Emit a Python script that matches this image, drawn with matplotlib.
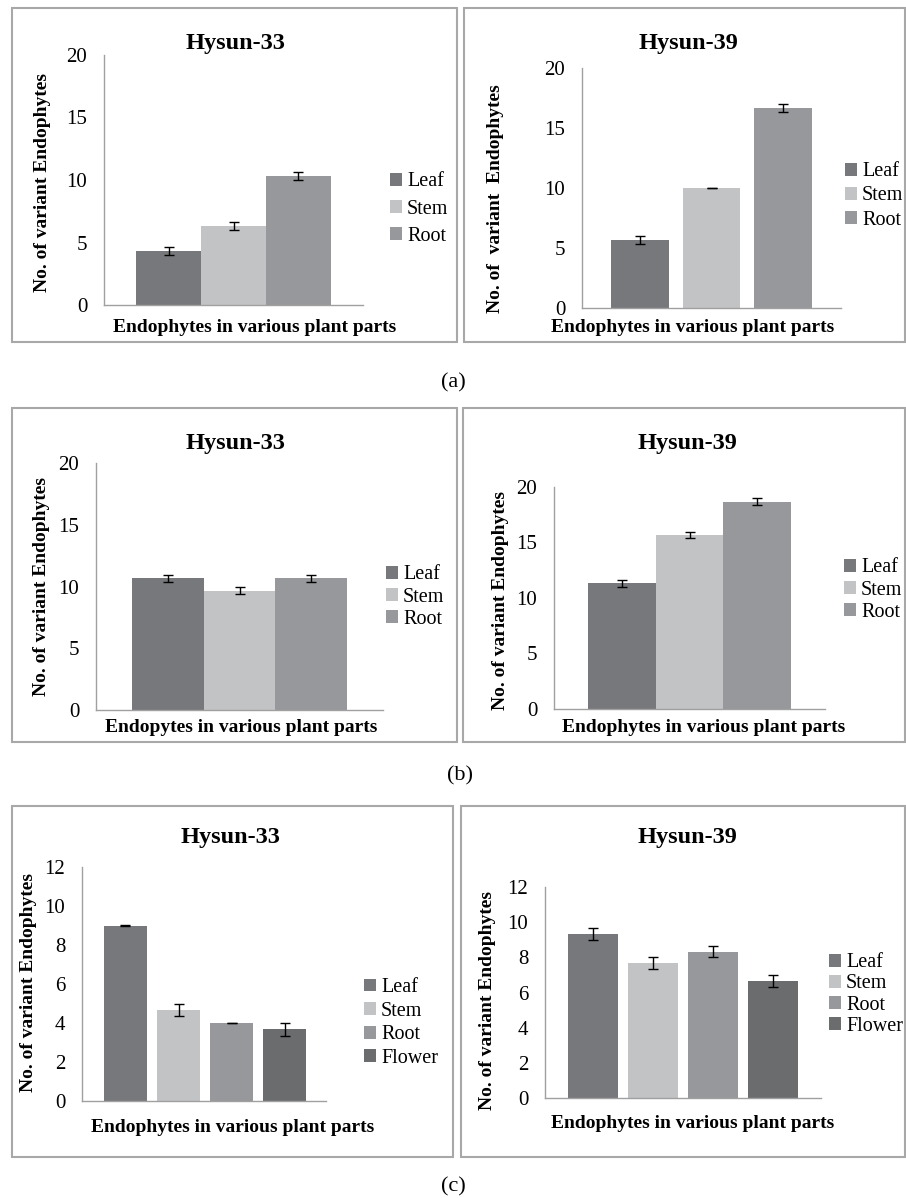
import matplotlib
matplotlib.use("Agg")
import matplotlib.pyplot as plt
from matplotlib.patches import Rectangle

# data (mean number of endophytes, error bar half-length)
parts3 = ["Leaf", "Stem", "Root"]
parts4 = ["Leaf", "Stem", "Root", "Flower"]

a33 = [4.33, 6.33, 10.33]
a33_err = [0.3, 0.3, 0.3]
a39 = [5.67, 10.0, 16.67]
a39_err = [0.3, 0.03, 0.3]

b33 = [10.67, 9.67, 10.67]
b33_err = [0.3, 0.3, 0.3]
b39 = [11.33, 15.67, 18.67]
b39_err = [0.3, 0.3, 0.3]

c33 = [9.0, 4.67, 4.0, 3.67]
c33_err = [0.03, 0.33, 0.02, 0.33]
c39 = [9.33, 7.67, 8.33, 6.67]
c39_err = [0.33, 0.33, 0.33, 0.33]

W, H = 906, 1198
colors = {"Leaf": "#77787b", "Stem": "#c2c3c5", "Root": "#97989b", "Flower": "#6b6c6e"}

plt.rcParams["font.family"] = ["Liberation Serif", "DejaVu Serif"]

fig = plt.figure(figsize=(W / 100, H / 100), dpi=100)


def fx(x):
    return x / W


def fy(y):
    return 1 - y / H


def box(x0, y0, x1, y1):
    fig.patches.append(Rectangle((fx(x0), fy(y1)), fx(x1 - x0), (y1 - y0) / H,
                                 transform=fig.transFigure, fill=False,
                                 edgecolor="#a8a8a8", linewidth=1.5))


def panel(ax_px, vals, errs, parts, ymax, ystep, width, xlim, title, title_xy,
          ylabel, ylab_xy, xlabel, xlab_xy, leg_xy, leg_sp=0.2):
    x0, ytop, x1, ybot = ax_px
    ax = fig.add_axes([fx(x0), fy(ybot), fx(x1 - x0), (ybot - ytop) / H])
    for i, (p, v, e) in enumerate(zip(parts, vals, errs)):
        ax.bar(i, v, width=width, color=colors[p], label=p, zorder=2)
        ax.errorbar(i, v, yerr=e, color="black", capsize=3.5, elinewidth=1,
                    capthick=1, zorder=3)
    ax.set_ylim(0, ymax)
    ax.set_xlim(*xlim)
    ax.set_yticks(range(0, ymax + 1, ystep))
    ax.set_xticks([])
    ax.tick_params(axis="y", length=0, pad=12, labelsize=15)
    for s in ["top", "right"]:
        ax.spines[s].set_visible(False)
    for s in ["left", "bottom"]:
        ax.spines[s].set_color("#a0a0a0")
        ax.spines[s].set_linewidth(1)
    fig.text(fx(title_xy[0]), fy(title_xy[1]), title, ha="center", va="center",
             fontsize=17.5, fontweight="bold")
    fig.text(fx(ylab_xy[0]), fy(ylab_xy[1]), ylabel, ha="center", va="center",
             rotation=90, fontsize=14, fontweight="bold")
    fig.text(fx(xlab_xy[0]), fy(xlab_xy[1]), xlabel, ha="center", va="center",
             fontsize=14, fontweight="bold")
    ax.legend(loc="center left", bbox_to_anchor=(fx(leg_xy[0]), fy(leg_xy[1])),
              bbox_transform=fig.transFigure, frameon=False, fontsize=14.5,
              handlelength=0.6, handleheight=0.6, handletextpad=0.25,
              labelspacing=leg_sp, borderpad=0, borderaxespad=0)
    return ax


ylab = "No. of variant Endophytes"
xlab = "Endophytes in various plant parts"

# (a)
box(12, 8, 457, 342)
box(464, 8, 905, 342)
panel((104, 55, 363, 305), a33, a33_err, parts3, 20, 5, 1.0, (-1.0, 3.0),
      "Hysun-33", (235, 43), ylab, (43, 182), xlab, (255, 328), (390, 209),
      leg_sp=0.4)
panel((582, 68, 841, 308), a39, a39_err, parts3, 20, 5, 0.81, (-0.81, 2.81),
      "Hysun-39", (688, 43), "No. of  variant  Endophytes", (495, 199), xlab,
      (693, 328), (845, 196), leg_sp=0.25)
fig.text(fx(453), fy(383), "(a)", ha="center", va="center", fontsize=16)

# (b)
box(12, 408, 457, 742)
box(463, 408, 905, 742)
panel((96, 463, 383, 710), b33, b33_err, parts3, 20, 5, 1.0, (-1.0, 3.0),
      "Hysun-33", (235, 443), ylab, (42, 586), "Endopytes in various plant parts",
      (241, 728), (386, 597), leg_sp=0.15)
panel((554, 487, 825, 709), b39, b39_err, parts3, 20, 5, 1.0, (-1.0, 3.0),
      "Hysun-39", (687, 443), ylab, (500, 601), xlab, (704, 728), (844, 590),
      leg_sp=0.15)
fig.text(fx(460), fy(776), "(b)", ha="center", va="center", fontsize=16)

# (c)
box(12, 806, 453, 1157)
box(461, 806, 905, 1157)
panel((82, 867, 326, 1101), c33, c33_err, parts4, 12, 2, 0.81, (-0.82, 3.78),
      "Hysun-33", (230, 838), ylab, (29, 983), xlab, (233, 1127), (364, 1023),
      leg_sp=0.23)
panel((545, 887, 821, 1098), c39, c39_err, parts4, 12, 2, 0.82, (-0.8, 3.8),
      "Hysun-39", (687, 838), ylab, (488, 1000), xlab, (693, 1123), (829, 994.5),
      leg_sp=0.1)
fig.text(fx(453), fy(1187), "(c)", ha="center", va="center", fontsize=16)

plt.savefig("out.png", dpi=100)
